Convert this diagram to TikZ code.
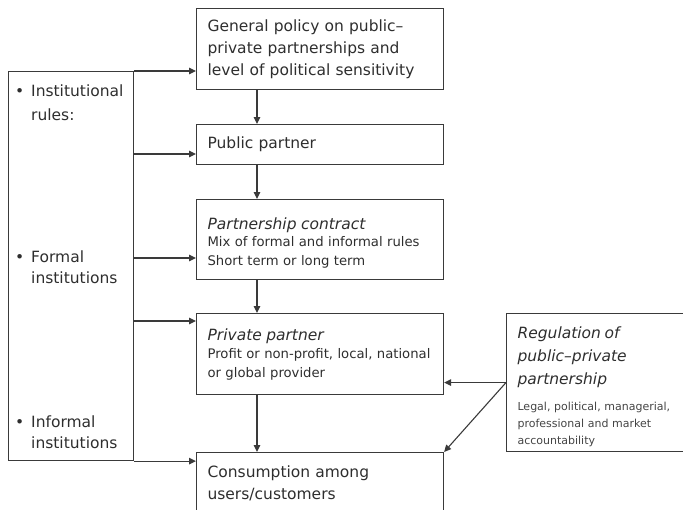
\documentclass[tikz,border=0pt]{standalone}
\usepackage{fontspec}
\setmainfont{DejaVu Sans}
\usetikzlibrary{arrows.meta,calc}
\definecolor{ink}{HTML}{2E2E2E}
\definecolor{soft}{HTML}{444444}
\definecolor{wire}{HTML}{3A3A3A}
\tikzset{
  box/.style={draw=wire, line width=1.1pt, anchor=north west, inner xsep=11pt, inner ysep=0pt, align=left, text=ink},
  arr/.style={draw=wire, line width=1.1pt, -{Triangle[length=7pt,width=6.5pt]}},
  big/.style={font=\fontsize{15.5}{22}\selectfont},
  small/.style={font=\fontsize{13.2}{19}\selectfont},
  lbl/.style={anchor=west, inner sep=0pt, text=ink, align=left, font=\fontsize{15.5}{21}\selectfont}
}
\newcommand{\bul}{\makebox[16pt][l]{•}}
\begin{document}
\begin{tikzpicture}[x=1pt,y=-1pt]
\useasboundingbox (0,0) rectangle (683,509);
\clip (0,0) rectangle (683,509);
% left box
\node[box, minimum width=125pt, minimum height=389pt, text width=103pt] (inst) at (8,71) {};
\node[lbl, font=\fontsize{15.5}{24}\selectfont] (t1) at (15,103) {\bul Institutional\\\hspace{16pt}rules:};
\node[lbl] (t2) at (15,267) {\bul Formal\\\hspace{16pt}institutions};
\node[lbl] (t3) at (15,432) {\bul Informal\\\hspace{16pt}institutions};
% main column
\node[box, big, minimum width=247pt, minimum height=81pt, text width=225pt] (top) at (196,8)
  {General policy on public–\\private partnerships and\\level of political sensitivity};
\node[box, big, minimum width=247pt, minimum height=40pt, text width=225pt] (pub) at (196,124)
  {Public partner};
\node[box, small, minimum width=247pt, minimum height=80pt, text width=225pt] (con) at (196,199)
  {{\fontsize{15.5}{19}\selectfont\itshape \rule{0pt}{19pt}Partnership contract\par}
   \vspace{-2pt}Mix of formal and informal rules\\Short term or long term};
\node[box, small, minimum width=247pt, minimum height=81pt, text width=225pt] (pp) at (196,313)
  {{\fontsize{15.5}{19}\selectfont\itshape Private partner\par}
   \vspace{-1pt}Profit or non-profit, local, national\\or global provider};
\node[box, big, minimum width=247pt, minimum height=62pt, text width=225pt] (cons) at (196,452)
  {Consumption among\\users/customers};
\node[box, font=\fontsize{11}{17}\selectfont, minimum width=185pt, minimum height=138pt, text width=165pt, inner xsep=11pt] (reg) at (506,313)
  {{\fontsize{15.5}{23}\selectfont\itshape \rule{0pt}{20pt}Regulation of\\public–private\\partnership\par}
   \vspace{9pt}{\color{soft}Legal, political, managerial,\\professional and market\\accountability}};
% spine coordinates
\coordinate (col) at (257,0);
\coordinate (s1) at (133,154);
\coordinate (s2) at (133,258);
\coordinate (s3) at (133,321);
% left arrows
\draw[arr] (inst.north east) -- (inst.north east -| top.west);
\draw[arr] (s1) -- (s1 -| pub.west);
\draw[arr] (s2) -- (s2 -| con.west);
\draw[arr] (s3) -- (s3 -| pp.west);
\draw[arr] (inst.south east) -- (inst.south east -| cons.west);
% vertical arrows
\draw[arr] (top.south -| col) -- (pub.north -| col);
\draw[arr] (pub.south -| col) -- (con.north -| col);
\draw[arr] (con.south -| col) -- (pp.north -| col);
\draw[arr] (pp.south -| col) -- (cons.north -| col);
% regulation arrows
\draw[arr] (reg.west) -- (reg.west -| pp.east);
\draw[arr] (reg.west) -- (cons.north east);
\end{tikzpicture}
\end{document}
